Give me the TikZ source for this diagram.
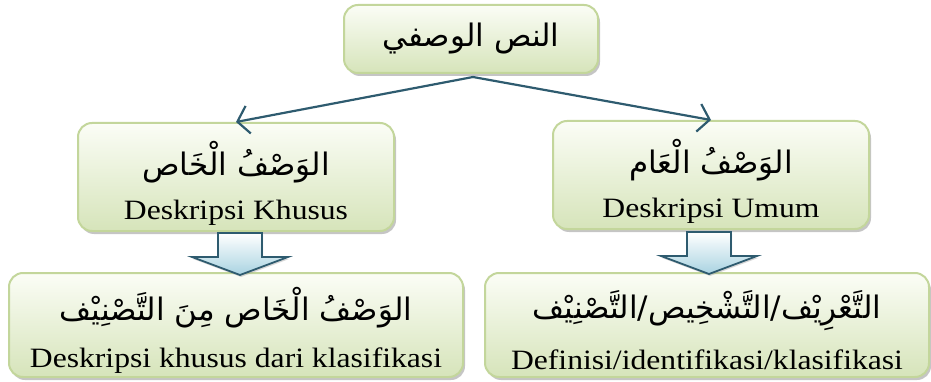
\documentclass[tikz,border=0pt]{standalone}
\usepackage{fontspec}
\setmainfont{Liberation Serif}[FakeStretch=1.13]
\newfontfamily\arabicfont[Script=Arabic]{DejaVu Sans}
\TeXXeTstate=1
\usetikzlibrary{arrows.meta,calc,shadows}
\definecolor{boxline}{HTML}{C3D69B}
\definecolor{boxtop}{HTML}{FBFDF6}
\definecolor{boxbot}{HTML}{D6E4BA}
\definecolor{tealline}{HTML}{2E5B6F}
\definecolor{arrowblue}{HTML}{A9D3E1}
\tikzset{
	box/.style={draw=boxline, line width=2pt, rounded corners=14pt, top color=boxtop, bottom color=boxbot,
		drop shadow={shadow xshift=2pt, shadow yshift=-3pt, fill=black!45, opacity=0.5}, align=center, inner sep=0pt},
	conn/.style={draw=tealline, line width=2.2pt, -{Straight Barb[length=11pt,width=28pt,line width=2.2pt]}},
	blk/.style={draw=tealline, line width=1.8pt, top color=white, bottom color=arrowblue, line join=miter,
		drop shadow={shadow xshift=1pt, shadow yshift=-2pt, fill=black!40, opacity=0.4}}
}
\def\arab{\arabicfont\fontsize{31}{31}\selectfont}
\def\lat{\fontsize{28}{30}\selectfont}
\def\down#1#2{\raisebox{-#1pt}[\height][\depth]{#2}}
\def\blkarrow(#1){\path[blk] ($(#1)+(-22,0)$) -- ($(#1)+(22,0)$) -- ($(#1)+(22,24)$) -- ($(#1)+(48,24)$) -- ($(#1)+(0,42)$) -- ($(#1)+(-48,24)$) -- ($(#1)+(-22,24)$) -- cycle;}

\begin{document}
\begin{tikzpicture}[x=1pt,y=-1pt]
			%%%%% START %%%%%
			\useasboundingbox (0,0) rectangle (931,382);
			
			\node[box, minimum width=254, minimum height=68] (nass) at (471,39) {\arab\beginR النص الوصفي\endR};
			
			\node[box, minimum width=316, minimum height=108] (khas) at (236,177)
				{\down{6}{\arab\beginR الوَصْفُ الْخَاص\endR}\\[16pt]\down{6}{\lat Deskripsi Khusus}};
			\node[box, minimum width=316, minimum height=108] (am) at (711,175)
				{\down{6}{\arab\beginR الوَصْفُ الْعَام\endR}\\[16pt]\down{6}{\lat Deskripsi Umum}};
			
			\node[box, minimum width=454, minimum height=104] (tasnif) at (236,325)
				{\down{5}{\arab\beginR الوَصْفُ الْخَاص مِنَ التَّصْنِيْف\endR}\\[18pt]\down{5}{\lat Deskripsi khusus dari klasifikasi}};
			\node[box, minimum width=444, minimum height=104] (tarif) at (707,325)
				{\down{5}{\arab\beginR التَّعْرِيْف/التَّشْخِيص/التَّصْنِيْف\endR}\\[18pt]\down{5}{\lat Definisi/identifikasi/klasifikasi}};
			
			\draw[conn] ($(nass.south)+(2,3)$) -- (khas.north);
			\draw[conn] ($(nass.south)+(2,3)$) -- (am.north);
			
			\coordinate (dkhas) at (240,233);
			\coordinate (dam) at (709,232);
			\blkarrow(dkhas)
			\blkarrow(dam)
			%%%%% END %%%%%
\end{tikzpicture}
\end{document}
